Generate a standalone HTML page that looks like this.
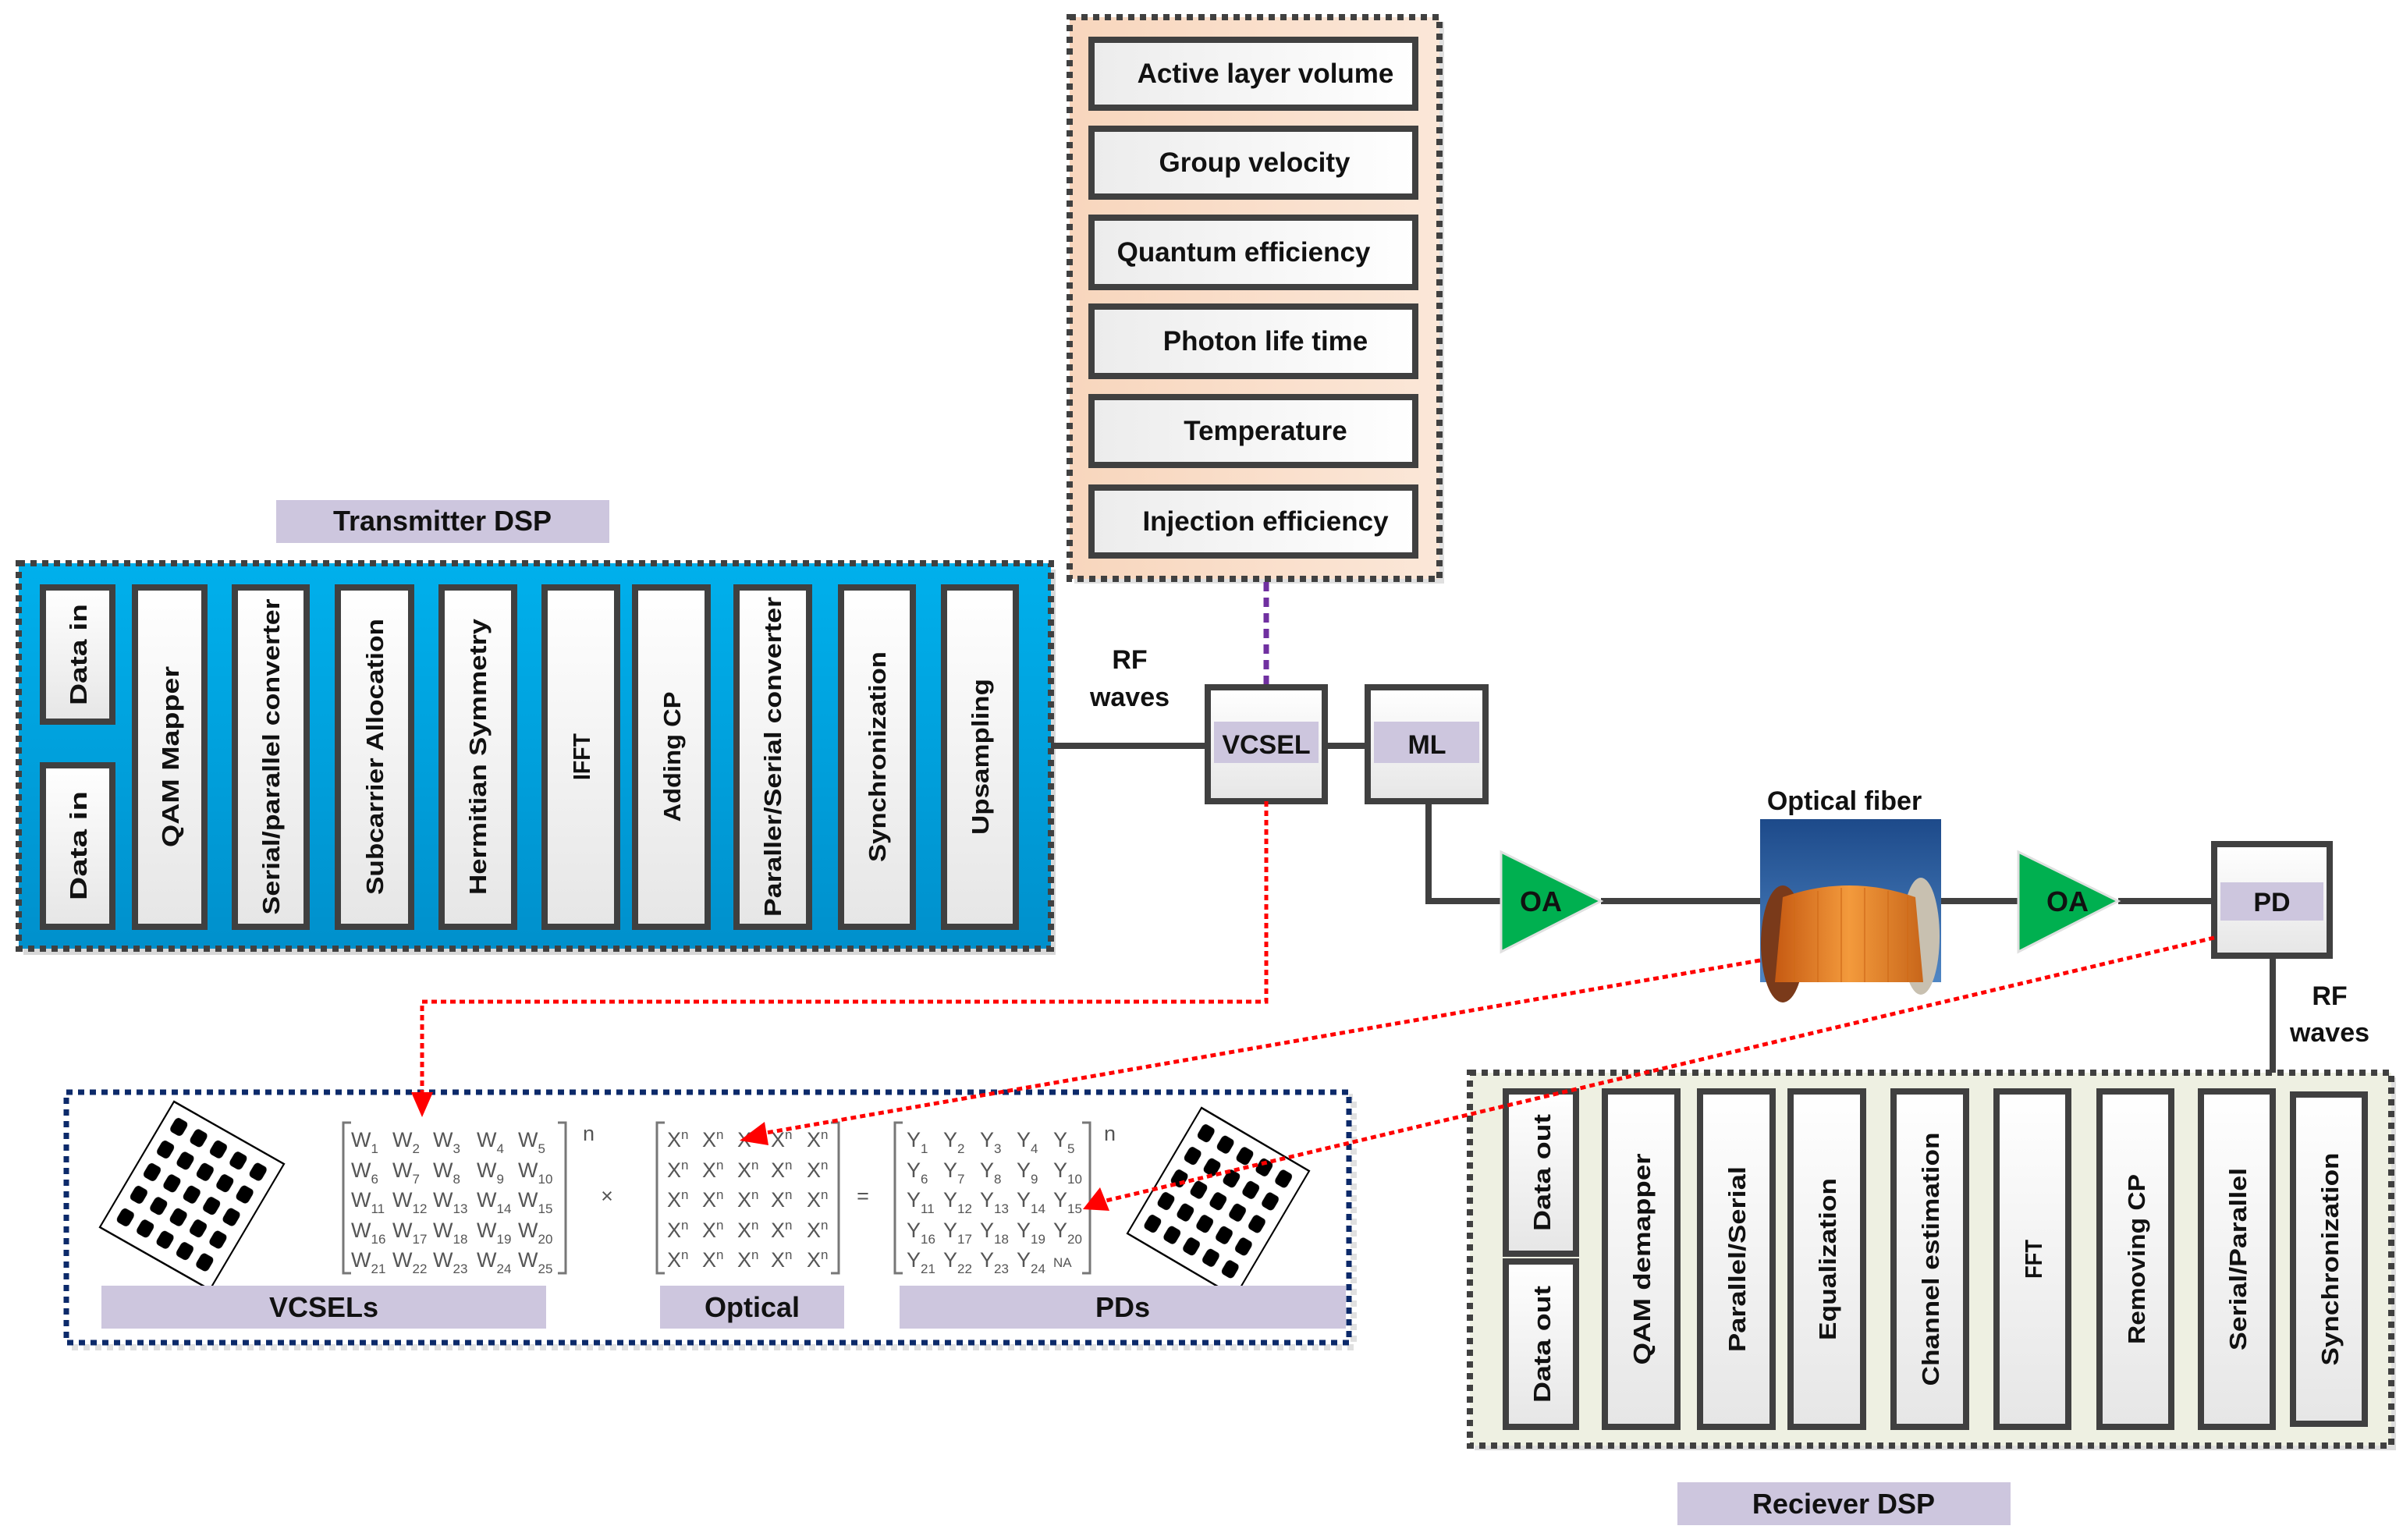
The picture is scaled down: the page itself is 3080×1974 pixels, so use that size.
<!DOCTYPE html>
<html><head><meta charset="utf-8"><style>
html,body{margin:0;padding:0;background:#fff}
svg{display:block}
text{font-family:"Liberation Sans",sans-serif}
.b{font-weight:bold;fill:#111}
.r{font-family:"DejaVu Sans",sans-serif;font-weight:bold;fill:#111}
.m{font-size:27px;fill:#555}
.s{font-size:17px;fill:#555}
</style></head><body>
<svg width="3080" height="1974" viewBox="0 0 3080 1974" xmlns="http://www.w3.org/2000/svg">
<defs>
<linearGradient id="gb" x1="0" y1="0" x2="0" y2="1"><stop offset="0" stop-color="#00b0ec"/><stop offset="1" stop-color="#0090cc"/></linearGradient>
<linearGradient id="gp" x1="0" y1="0" x2="1" y2="0"><stop offset="0" stop-color="#f8d6bd"/><stop offset="1" stop-color="#fbe7d8"/></linearGradient>
<linearGradient id="gw" x1="0" y1="0" x2="0" y2="1"><stop offset="0" stop-color="#ffffff"/><stop offset="1" stop-color="#e6e6e6"/></linearGradient>
<linearGradient id="gh" x1="0" y1="0" x2="1" y2="0"><stop offset="0" stop-color="#ececec"/><stop offset="1" stop-color="#ffffff"/></linearGradient>
<linearGradient id="sky" x1="0" y1="0" x2="0" y2="1"><stop offset="0" stop-color="#1d4a8a"/><stop offset="1" stop-color="#4f86c4"/></linearGradient>
<linearGradient id="or" x1="0" y1="0" x2="1" y2="0"><stop offset="0" stop-color="#c65a12"/><stop offset="0.5" stop-color="#f39a3c"/><stop offset="1" stop-color="#c8661a"/></linearGradient>
<pattern id="dots" x="5" y="5" width="18" height="18" patternUnits="userSpaceOnUse"><rect x="3" y="3" width="11" height="11" rx="3" fill="#000"/></pattern>
</defs>

<!-- Transmitter -->
<rect x="354" y="641" width="427" height="55" fill="#cdc6de"/>
<text x="567" y="680" class="b" font-size="36" text-anchor="middle">Transmitter DSP</text>
<rect x="30" y="730" width="1323" height="494" fill="#d8d8d8"/>
<rect x="24" y="722" width="1323" height="494" fill="url(#gb)" stroke="#404040" stroke-width="8" stroke-dasharray="8 7"/>
<g stroke="#404040" stroke-width="8" fill="url(#gw)">
<rect x="55" y="753" width="89" height="172"/>
<rect x="55" y="981" width="89" height="207"/>
<rect x="173" y="753" width="89" height="435"/>
<rect x="301" y="753" width="92" height="435"/>
<rect x="433" y="753" width="94" height="435"/>
<rect x="566" y="753" width="93" height="435"/>
<rect x="698" y="753" width="93" height="435"/>
<rect x="814" y="753" width="93" height="435"/>
<rect x="944" y="753" width="93" height="435"/>
<rect x="1078" y="753" width="92" height="435"/>
<rect x="1210" y="753" width="92" height="435"/>
</g>
<g class="r" font-size="31" text-anchor="middle" lengthAdjust="spacingAndGlyphs">
<text transform="translate(111,839) rotate(-90)" textLength="130" lengthAdjust="spacingAndGlyphs">Data in</text>
<text transform="translate(111,1084) rotate(-90)" textLength="140" lengthAdjust="spacingAndGlyphs">Data in</text>
<text transform="translate(229,970) rotate(-90)" textLength="232" lengthAdjust="spacingAndGlyphs">QAM Mapper</text>
<text transform="translate(358,970) rotate(-90)" textLength="405" lengthAdjust="spacingAndGlyphs">Serial/parallel converter</text>
<text transform="translate(491,970) rotate(-90)" textLength="354" lengthAdjust="spacingAndGlyphs">Subcarrier Allocation</text>
<text transform="translate(623,970) rotate(-90)" textLength="354" lengthAdjust="spacingAndGlyphs">Hermitian Symmetry</text>
<text transform="translate(756,970) rotate(-90)" textLength="60" lengthAdjust="spacingAndGlyphs">IFFT</text>
<text transform="translate(872,970) rotate(-90)" textLength="167" lengthAdjust="spacingAndGlyphs">Adding CP</text>
<text transform="translate(1001,970) rotate(-90)" textLength="410" lengthAdjust="spacingAndGlyphs">Paraller/Serial converter</text>
<text transform="translate(1135,970) rotate(-90)" textLength="270" lengthAdjust="spacingAndGlyphs">Synchronization</text>
<text transform="translate(1267,970) rotate(-90)" textLength="200" lengthAdjust="spacingAndGlyphs">Upsampling</text>
</g>

<!-- Parameters -->
<rect x="1377" y="28" width="474" height="720" fill="#e0e0e0"/>
<rect x="1371" y="22" width="474" height="720" fill="url(#gp)" stroke="#404040" stroke-width="8" stroke-dasharray="8 7"/>
<g stroke="#404040" stroke-width="8" fill="url(#gh)">
<rect x="1399" y="51" width="415" height="87"/>
<rect x="1399" y="165" width="415" height="87"/>
<rect x="1399" y="279" width="415" height="89"/>
<rect x="1399" y="393" width="415" height="89"/>
<rect x="1399" y="509" width="415" height="87"/>
<rect x="1399" y="625" width="415" height="87"/>
</g>
<g class="b" font-size="35" text-anchor="middle">
<text x="1622" y="106">Active layer volume</text>
<text x="1608" y="220">Group velocity</text>
<text x="1594" y="335">Quantum efficiency</text>
<text x="1622" y="449">Photon life time</text>
<text x="1622" y="564">Temperature</text>
<text x="1622" y="680">Injection efficiency</text>
</g>
<line x1="1623" y1="746" x2="1623" y2="881" stroke="#7030a0" stroke-width="7" stroke-dasharray="12 8"/>

<!-- main chain -->
<g stroke="#404040" stroke-width="8" fill="none">
<line x1="1347" y1="956" x2="1548" y2="956"/>
<line x1="1698" y1="956" x2="1753" y2="956"/>
<polyline points="1831,1027 1831,1155 1924,1155"/>
<line x1="2052" y1="1155" x2="2256" y2="1155"/>
<line x1="2488" y1="1155" x2="2587" y2="1155"/>
<line x1="2715" y1="1155" x2="2838" y2="1155"/>
<line x1="2913" y1="1225" x2="2913" y2="1375"/>
</g>
<text x="1448" y="857" class="b" font-size="34" text-anchor="middle">RF</text>
<text x="1448" y="905" class="b" font-size="34" text-anchor="middle">waves</text>
<g stroke="#404040" stroke-width="8" fill="url(#gw)">
<rect x="1548" y="881" width="150" height="146"/>
<rect x="1753" y="881" width="151" height="146"/>
<rect x="2838" y="1082" width="148" height="143"/>
</g>
<rect x="1556" y="925" width="134" height="53" fill="#cdc6de"/>
<rect x="1761" y="925" width="135" height="53" fill="#cdc6de"/>
<rect x="2846" y="1131" width="132" height="49" fill="#cdc6de"/>
<text x="1623" y="966" class="b" font-size="34" text-anchor="middle">VCSEL</text>
<text x="1829" y="966" class="b" font-size="34" text-anchor="middle">ML</text>
<text x="2912" y="1168" class="b" font-size="34" text-anchor="middle">PD</text>
<polygon points="1924,1092 2052,1155 1924,1220" fill="#00b050" stroke="#e0e0e0" stroke-width="3"/>
<polygon points="2587,1092 2715,1155 2587,1220" fill="#00b050" stroke="#e0e0e0" stroke-width="3"/>
<text x="1975" y="1168" class="b" font-size="36" text-anchor="middle">OA</text>
<text x="2650" y="1168" class="b" font-size="36" text-anchor="middle">OA</text>
<text x="2364" y="1038" class="b" font-size="34" text-anchor="middle">Optical fiber</text>
<rect x="2256" y="1050" width="232" height="209" fill="url(#sky)"/>
<ellipse cx="2285" cy="1210" rx="28" ry="75" fill="#7a3a1a"/>
<ellipse cx="2462" cy="1200" rx="24" ry="75" fill="#c8c0b0"/>
<path d="M2275,1259 L2285,1150 Q2370,1120 2455,1150 L2465,1259 Z" fill="url(#or)"/>
<g stroke="#d06a18" stroke-width="2" opacity="0.6">
<line x1="2300" y1="1150" x2="2300" y2="1259"/><line x1="2330" y1="1142" x2="2330" y2="1259"/><line x1="2360" y1="1138" x2="2360" y2="1259"/><line x1="2390" y1="1138" x2="2390" y2="1259"/><line x1="2420" y1="1142" x2="2420" y2="1259"/><line x1="2445" y1="1148" x2="2445" y2="1259"/>
</g>
<text x="2986" y="1288" class="b" font-size="34" text-anchor="middle">RF</text>
<text x="2986" y="1335" class="b" font-size="34" text-anchor="middle">waves</text>

<!-- Receiver -->
<rect x="1890" y="1381" width="1181" height="478" fill="#dedede"/>
<rect x="1884" y="1375" width="1181" height="478" fill="#eef0e2" stroke="#404040" stroke-width="8" stroke-dasharray="8 7"/>
<g stroke="#404040" stroke-width="8" fill="url(#gw)">
<rect x="1930" y="1399" width="90" height="208"/>
<rect x="1930" y="1617" width="90" height="212"/>
<rect x="2057" y="1399" width="93" height="430"/>
<rect x="2179" y="1399" width="93" height="430"/>
<rect x="2295" y="1399" width="93" height="430"/>
<rect x="2427" y="1399" width="93" height="430"/>
<rect x="2559" y="1399" width="92" height="430"/>
<rect x="2691" y="1399" width="92" height="430"/>
<rect x="2821" y="1399" width="92" height="430"/>
<rect x="2939" y="1403" width="92" height="422"/>
</g>
<g class="r" font-size="31" text-anchor="middle">
<text transform="translate(1987,1503) rotate(-90)" textLength="150" lengthAdjust="spacingAndGlyphs">Data out</text>
<text transform="translate(1987,1723) rotate(-90)" textLength="150" lengthAdjust="spacingAndGlyphs">Data out</text>
<text transform="translate(2115,1614) rotate(-90)" textLength="271" lengthAdjust="spacingAndGlyphs">QAM demapper</text>
<text transform="translate(2237,1614) rotate(-90)" textLength="238" lengthAdjust="spacingAndGlyphs">Parallel/Serial</text>
<text transform="translate(2353,1614) rotate(-90)" textLength="208" lengthAdjust="spacingAndGlyphs">Equalization</text>
<text transform="translate(2485,1614) rotate(-90)" textLength="325" lengthAdjust="spacingAndGlyphs">Channel estimation</text>
<text transform="translate(2617,1614) rotate(-90)" textLength="50" lengthAdjust="spacingAndGlyphs">FFT</text>
<text transform="translate(2749,1614) rotate(-90)" textLength="218" lengthAdjust="spacingAndGlyphs">Removing CP</text>
<text transform="translate(2879,1614) rotate(-90)" textLength="234" lengthAdjust="spacingAndGlyphs">Serial/Parallel</text>
<text transform="translate(2997,1614) rotate(-90)" textLength="273" lengthAdjust="spacingAndGlyphs">Synchronization</text>
</g>
<rect x="2150" y="1900" width="427" height="55" fill="#cdc6de"/>
<text x="2363" y="1940" class="b" font-size="36" text-anchor="middle">Reciever DSP</text>

<!-- Bottom matrix box -->
<rect x="91" y="1406" width="1644" height="321" fill="none" stroke="#e0e0e0" stroke-width="8" stroke-dasharray="8 7"/>
<rect x="85" y="1400" width="1644" height="321" fill="#fff" stroke="#0c2a6a" stroke-width="7" stroke-dasharray="8 7"/>
<g transform="matrix(1.41,0.80,-0.95,1.61,223,1412)">
<rect x="0" y="0" width="100" height="100" fill="#fff" stroke="#000" stroke-width="1.3"/>
<rect x="5" y="5" width="90" height="90" fill="url(#dots)"/>
</g>
<g transform="matrix(1.38,0.81,-0.95,1.61,1540,1420)">
<rect x="0" y="0" width="100" height="100" fill="#fff" stroke="#000" stroke-width="1.3"/>
<rect x="5" y="5" width="90" height="90" fill="url(#dots)"/>
</g>
<g fill="none" stroke="#777" stroke-width="3">
<path d="M450,1439 H440 V1632 H450"/><path d="M715,1439 H725 V1632 H715"/>
<path d="M852,1439 H842 V1632 H852"/><path d="M1065,1439 H1075 V1632 H1065"/>
<path d="M1157,1439 H1147 V1632 H1157"/><path d="M1387,1439 H1397 V1632 H1387"/>
</g>
<text x="747" y="1462" class="m">n</text><text x="1415" y="1462" class="m">n</text>
<text x="778" y="1542" class="m" text-anchor="middle">×</text>
<text x="1106" y="1542" class="m" text-anchor="middle">=</text>
<g class="m">
<text x="450" y="1470">W<tspan class="s" dy="8">1</tspan></text><text x="503" y="1470">W<tspan class="s" dy="8">2</tspan></text><text x="555" y="1470">W<tspan class="s" dy="8">3</tspan></text><text x="611" y="1470">W<tspan class="s" dy="8">4</tspan></text><text x="664" y="1470">W<tspan class="s" dy="8">5</tspan></text>
<text x="450" y="1509">W<tspan class="s" dy="8">6</tspan></text><text x="503" y="1509">W<tspan class="s" dy="8">7</tspan></text><text x="555" y="1509">W<tspan class="s" dy="8">8</tspan></text><text x="611" y="1509">W<tspan class="s" dy="8">9</tspan></text><text x="664" y="1509">W<tspan class="s" dy="8">10</tspan></text>
<text x="450" y="1547">W<tspan class="s" dy="8">11</tspan></text><text x="503" y="1547">W<tspan class="s" dy="8">12</tspan></text><text x="555" y="1547">W<tspan class="s" dy="8">13</tspan></text><text x="611" y="1547">W<tspan class="s" dy="8">14</tspan></text><text x="664" y="1547">W<tspan class="s" dy="8">15</tspan></text>
<text x="450" y="1586">W<tspan class="s" dy="8">16</tspan></text><text x="503" y="1586">W<tspan class="s" dy="8">17</tspan></text><text x="555" y="1586">W<tspan class="s" dy="8">18</tspan></text><text x="611" y="1586">W<tspan class="s" dy="8">19</tspan></text><text x="664" y="1586">W<tspan class="s" dy="8">20</tspan></text>
<text x="450" y="1624">W<tspan class="s" dy="8">21</tspan></text><text x="503" y="1624">W<tspan class="s" dy="8">22</tspan></text><text x="555" y="1624">W<tspan class="s" dy="8">23</tspan></text><text x="611" y="1624">W<tspan class="s" dy="8">24</tspan></text><text x="664" y="1624">W<tspan class="s" dy="8">25</tspan></text>
</g>
<g class="m">
<text x="855" y="1470">X<tspan class="s" dy="-10">n</tspan></text><text x="900" y="1470">X<tspan class="s" dy="-10">n</tspan></text><text x="945" y="1470">X<tspan class="s" dy="-10">n</tspan></text><text x="988" y="1470">X<tspan class="s" dy="-10">n</tspan></text><text x="1034" y="1470">X<tspan class="s" dy="-10">n</tspan></text>
<text x="855" y="1509">X<tspan class="s" dy="-10">n</tspan></text><text x="900" y="1509">X<tspan class="s" dy="-10">n</tspan></text><text x="945" y="1509">X<tspan class="s" dy="-10">n</tspan></text><text x="988" y="1509">X<tspan class="s" dy="-10">n</tspan></text><text x="1034" y="1509">X<tspan class="s" dy="-10">n</tspan></text>
<text x="855" y="1547">X<tspan class="s" dy="-10">n</tspan></text><text x="900" y="1547">X<tspan class="s" dy="-10">n</tspan></text><text x="945" y="1547">X<tspan class="s" dy="-10">n</tspan></text><text x="988" y="1547">X<tspan class="s" dy="-10">n</tspan></text><text x="1034" y="1547">X<tspan class="s" dy="-10">n</tspan></text>
<text x="855" y="1586">X<tspan class="s" dy="-10">n</tspan></text><text x="900" y="1586">X<tspan class="s" dy="-10">n</tspan></text><text x="945" y="1586">X<tspan class="s" dy="-10">n</tspan></text><text x="988" y="1586">X<tspan class="s" dy="-10">n</tspan></text><text x="1034" y="1586">X<tspan class="s" dy="-10">n</tspan></text>
<text x="855" y="1624">X<tspan class="s" dy="-10">n</tspan></text><text x="900" y="1624">X<tspan class="s" dy="-10">n</tspan></text><text x="945" y="1624">X<tspan class="s" dy="-10">n</tspan></text><text x="988" y="1624">X<tspan class="s" dy="-10">n</tspan></text><text x="1034" y="1624">X<tspan class="s" dy="-10">n</tspan></text>
</g>
<g class="m">
<text x="1162" y="1470">Y<tspan class="s" dy="8">1</tspan></text><text x="1209" y="1470">Y<tspan class="s" dy="8">2</tspan></text><text x="1256" y="1470">Y<tspan class="s" dy="8">3</tspan></text><text x="1303" y="1470">Y<tspan class="s" dy="8">4</tspan></text><text x="1350" y="1470">Y<tspan class="s" dy="8">5</tspan></text>
<text x="1162" y="1509">Y<tspan class="s" dy="8">6</tspan></text><text x="1209" y="1509">Y<tspan class="s" dy="8">7</tspan></text><text x="1256" y="1509">Y<tspan class="s" dy="8">8</tspan></text><text x="1303" y="1509">Y<tspan class="s" dy="8">9</tspan></text><text x="1350" y="1509">Y<tspan class="s" dy="8">10</tspan></text>
<text x="1162" y="1547">Y<tspan class="s" dy="8">11</tspan></text><text x="1209" y="1547">Y<tspan class="s" dy="8">12</tspan></text><text x="1256" y="1547">Y<tspan class="s" dy="8">13</tspan></text><text x="1303" y="1547">Y<tspan class="s" dy="8">14</tspan></text><text x="1350" y="1547">Y<tspan class="s" dy="8">15</tspan></text>
<text x="1162" y="1586">Y<tspan class="s" dy="8">16</tspan></text><text x="1209" y="1586">Y<tspan class="s" dy="8">17</tspan></text><text x="1256" y="1586">Y<tspan class="s" dy="8">18</tspan></text><text x="1303" y="1586">Y<tspan class="s" dy="8">19</tspan></text><text x="1350" y="1586">Y<tspan class="s" dy="8">20</tspan></text>
<text x="1162" y="1624">Y<tspan class="s" dy="8">21</tspan></text><text x="1209" y="1624">Y<tspan class="s" dy="8">22</tspan></text><text x="1256" y="1624">Y<tspan class="s" dy="8">23</tspan></text><text x="1303" y="1624">Y<tspan class="s" dy="8">24</tspan></text><text x="1350" y="1624" class="s">NA</text>
</g>
<rect x="130" y="1648" width="570" height="55" fill="#cdc6de"/>
<rect x="846" y="1648" width="236" height="55" fill="#cdc6de"/>
<rect x="1153" y="1648" width="572" height="55" fill="#cdc6de"/>
<text x="415" y="1688" class="b" font-size="36" text-anchor="middle">VCSELs</text>
<text x="964" y="1688" class="b" font-size="36" text-anchor="middle">Optical</text>
<text x="1439" y="1688" class="b" font-size="36" text-anchor="middle">PDs</text>

<!-- red dotted connectors -->
<g stroke="#f00" stroke-width="5" stroke-dasharray="7 5" fill="none">
<polyline points="1623,1027 1623,1284 541,1284 541,1410"/>
<line x1="2256" y1="1231" x2="965" y2="1455"/>
<line x1="2838" y1="1202" x2="1405" y2="1542"/>
</g>
<g fill="#f00">
<polygon points="527,1400 555,1400 541,1432"/>
<polygon points="948,1462 980,1438 985,1468"/>
<polygon points="1388,1550 1410,1522 1422,1552"/>
</g>
</svg>
</body></html>
